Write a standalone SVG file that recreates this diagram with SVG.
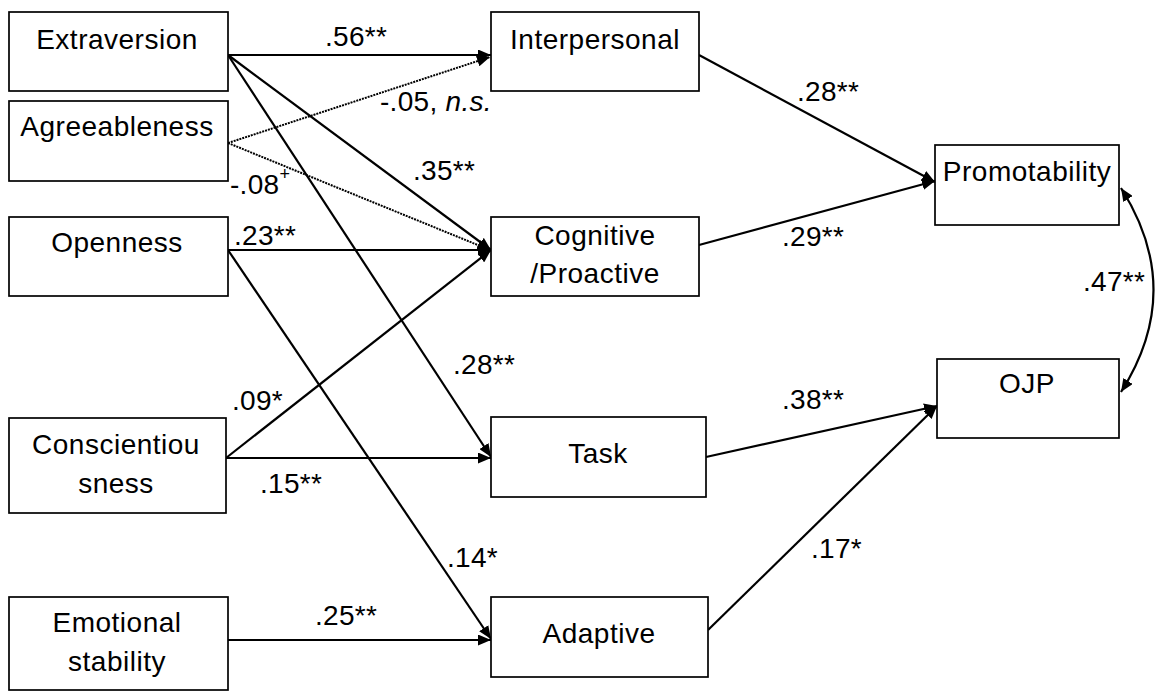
<svg xmlns="http://www.w3.org/2000/svg" width="1155" height="693" viewBox="0 0 1155 693">
  <style>
    .box { fill: #ffffff; stroke: #000000; stroke-width: 1.7; }
    .lbl { font-family: "Liberation Sans", Arial, sans-serif; font-size: 28px; letter-spacing: 0.5px; fill: #000000; text-anchor: middle; }
    .coef { font-family: "Liberation Sans", Arial, sans-serif; font-size: 28px; letter-spacing: 0.3px; fill: #000000; }
    .path { fill: none; stroke: #000000; stroke-width: 2.2; marker-end: url(#arrow); }
    .dot { fill: none; stroke: #000000; stroke-width: 2; stroke-dasharray: 2 1; marker-end: url(#arrow); }
  </style>
  <defs>
    <marker id="arrow" viewBox="0 0 13 11" refX="13" refY="5.5" markerWidth="13" markerHeight="11" markerUnits="userSpaceOnUse" orient="auto-start-reverse">
      <path d="M0,0 L13,5.5 L0,11 z" fill="#000000"/>
    </marker>
  </defs>
  <rect width="1155" height="693" fill="#ffffff"/>

  <!-- connectors -->
  <g id="connectors">
    <line class="path" x1="228" y1="55" x2="491" y2="55"/>
    <line class="dot" x1="228" y1="143" x2="490" y2="57"/>
    <line class="path" x1="228" y1="55" x2="491" y2="250"/>
    <line class="path" x1="228" y1="55" x2="491" y2="457"/>
    <line class="dot" x1="228" y1="143" x2="490" y2="250"/>
    <line class="path" x1="228" y1="250" x2="491" y2="250"/>
    <line class="path" x1="228" y1="250" x2="491" y2="639"/>
    <line class="path" x1="226" y1="458" x2="491" y2="250"/>
    <line class="path" x1="226" y1="458" x2="491" y2="458"/>
    <line class="path" x1="228" y1="640" x2="491" y2="640"/>
    <line class="path" x1="699" y1="55" x2="935" y2="182"/>
    <line class="path" x1="699" y1="245" x2="935" y2="181"/>
    <line class="path" x1="706" y1="457" x2="937" y2="406"/>
    <line class="path" x1="708" y1="630" x2="937" y2="406"/>
    <path class="path" d="M1121,188 Q1186,290 1121,392" style="marker-start: url(#arrow);"/>

    <text class="coef" x="325" y="46">.56**</text>
    <text class="coef" x="380" y="111">-.05, <tspan font-style="italic">n.s.</tspan></text>
    <text class="coef" x="413" y="180">.35**</text>
    <text class="coef" x="230" y="194">-.08<tspan font-size="18" dy="-14">+</tspan></text>
    <text class="coef" x="234" y="245">.23**</text>
    <text class="coef" x="453" y="374">.28**</text>
    <text class="coef" x="232" y="410">.09*</text>
    <text class="coef" x="260" y="493">.15**</text>
    <text class="coef" x="447" y="567">.14*</text>
    <text class="coef" x="315" y="625">.25**</text>
    <text class="coef" x="797" y="101">.28**</text>
    <text class="coef" x="782" y="246">.29**</text>
    <text class="coef" x="782" y="409">.38**</text>
    <text class="coef" x="811" y="558">.17*</text>
    <text class="coef" x="1083" y="291">.47**</text>
  </g>

  <!-- predictors -->
  <g id="extraversion">
    <rect class="box" x="9" y="12" width="219" height="79"/>
    <text class="lbl" x="117" y="49">Extraversion</text>
  </g>
  <g id="agreeableness">
    <rect class="box" x="9" y="101" width="219" height="80"/>
    <text class="lbl" x="117" y="136">Agreeableness</text>
  </g>
  <g id="openness">
    <rect class="box" x="9" y="217" width="219" height="79"/>
    <text class="lbl" x="117" y="252">Openness</text>
  </g>
  <g id="conscientiousness">
    <rect class="box" x="9" y="418" width="217" height="95"/>
    <text class="lbl" x="116" y="454">Conscientiou</text>
    <text class="lbl" x="116" y="493">sness</text>
  </g>
  <g id="emotional-stability">
    <rect class="box" x="9" y="597" width="219" height="93"/>
    <text class="lbl" x="117" y="632">Emotional</text>
    <text class="lbl" x="117" y="671">stability</text>
  </g>

  <!-- mediators -->
  <g id="interpersonal">
    <rect class="box" x="491" y="12" width="208" height="79"/>
    <text class="lbl" x="595" y="49">Interpersonal</text>
  </g>
  <g id="cognitive-proactive">
    <rect class="box" x="491" y="217" width="208" height="79"/>
    <text class="lbl" x="595" y="245">Cognitive</text>
    <text class="lbl" x="595" y="283">/Proactive</text>
  </g>
  <g id="task">
    <rect class="box" x="491" y="417" width="215" height="80"/>
    <text class="lbl" x="598" y="463">Task</text>
  </g>
  <g id="adaptive">
    <rect class="box" x="491" y="597" width="217" height="80"/>
    <text class="lbl" x="599" y="643">Adaptive</text>
  </g>

  <!-- outcomes -->
  <g id="promotability">
    <rect class="box" x="935" y="145" width="184" height="80"/>
    <text class="lbl" x="1027" y="181">Promotability</text>
  </g>
  <g id="ojp">
    <rect class="box" x="937" y="359" width="182" height="79"/>
    <text class="lbl" x="1027" y="393">OJP</text>
  </g>
</svg>
